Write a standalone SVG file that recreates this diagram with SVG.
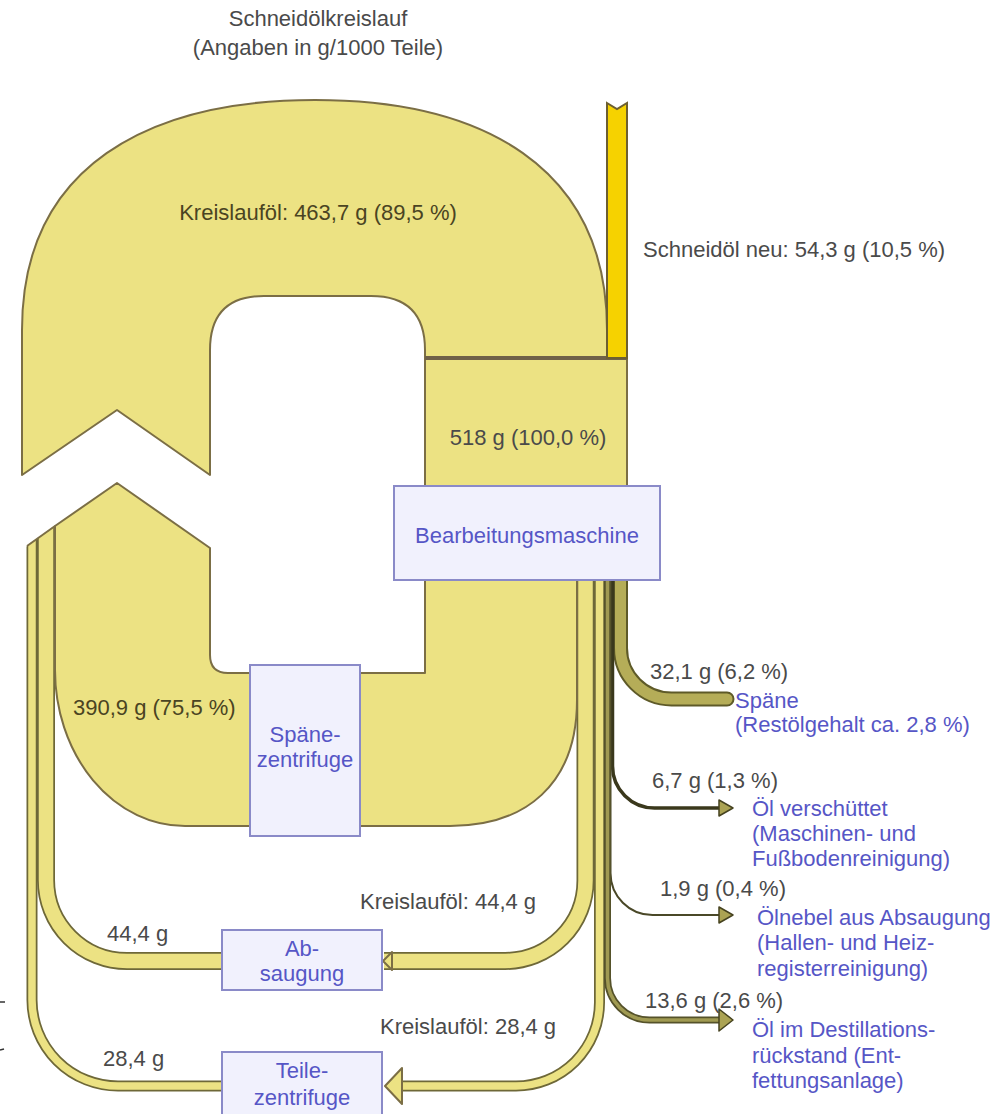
<svg xmlns="http://www.w3.org/2000/svg" width="1006" height="1114" viewBox="0 0 1006 1114">
<style>
.flow{fill:#ece283;stroke:#7b6e45;stroke-width:2;stroke-linejoin:round}
.box{fill:#f1f1fd;stroke:#8a8ac8;stroke-width:2}
.t{font-family:"Liberation Sans",Arial,sans-serif;font-size:22px;fill:#4a4a4a}
.o{fill:#4a4422}
.b{fill:#5656c6}
.c{text-anchor:middle}
.bo{fill:none;stroke:#6e6838;stroke-linecap:butt}
.bi{fill:none;stroke:#ece283;stroke-linecap:butt}
.arr{fill:#aba353;stroke:#45421f;stroke-width:1.5;stroke-linejoin:round}
</style>
<defs>
<clipPath id="belowSlope"><polygon points="0,562 27,546 117,483 1006,483 1006,1114 0,1114"/></clipPath>
<path id="p44L" d="M46,515 V880 A81,81 0 0 0 127,961 H224"/>
<path id="p44R" d="M384,961 H505 A80.5,80.5 0 0 0 585.5,880.5 V579"/>
<path id="p28L" d="M32,515 V1000 A86,86 0 0 0 118,1086 H224"/>
<path id="p28R" d="M398,1086 H516 A83.5,83.5 0 0 0 599.5,1002.5 V579"/>
<path id="pSp" d="M620.5,579 V648 A51,51 0 0 0 671.5,699 H727"/>
<path id="p67" d="M612.5,579 V766 A42,42 0 0 0 654.5,808 H721"/>
<path id="p19" d="M610.5,579 V873 A42,42 0 0 0 652.5,915 H721"/>
<path id="p136" d="M607.5,579 V978 A42,42 0 0 0 649.5,1020 H721"/>
</defs>

<g id="title">
<text class="t c" x="318" y="26" fill="#555">Schneidölkreislauf</text>
<text class="t c" x="318" y="55">(Angaben in g/1000 Teile)</text>
</g>

<g id="connectors">
<g clip-path="url(#belowSlope)">
<use href="#p44L" class="bo" stroke-width="18"/><use href="#p44L" class="bi" stroke-width="14.5"/>
<use href="#p28L" class="bo" stroke-width="11"/><use href="#p28L" class="bi" stroke-width="7.5"/>
</g>
<line x1="27" y1="546" x2="55" y2="526" stroke="#7b6e45" stroke-width="2"/>
<use href="#p44R" class="bo" stroke-width="18"/><use href="#p44R" class="bi" stroke-width="14.5"/>
<polygon class="flow" points="392,952 383,961 392,970"/>
<use href="#p28R" class="bo" stroke-width="11"/><use href="#p28R" class="bi" stroke-width="7.5"/>
<polygon class="flow" points="402,1068 385,1086 402,1104"/>
<use href="#pSp" fill="none" stroke="#5e5a28" stroke-width="15" stroke-linecap="round"/>
<use href="#pSp" fill="none" stroke="#b5ad58" stroke-width="11" stroke-linecap="round"/>
<use href="#p67" fill="none" stroke="#3a381c" stroke-width="3.5"/>
<polygon class="arr" points="719,800 733,808 719,816"/>
<use href="#p19" fill="none" stroke="#4a4828" stroke-width="2"/>
<polygon class="arr" points="719,907 733,915 719,923"/>
<use href="#p136" fill="none" stroke="#55522a" stroke-width="7"/>
<use href="#p136" fill="none" stroke="#a09a52" stroke-width="3.5"/>
<polygon class="arr" points="719,1009 733,1020 719,1031"/>
</g>

<g id="kreislauf">
<path class="flow" d="M22,475 L117,410 L210,475 L210,350 Q210,296 264,296 L371,296 Q425,296 425,350 L425,358 L607,358 L607,330 C607,165 480,100 315,100 C150,100 22,165 22,330 Z"/>
<text class="t c o" x="318" y="220">Kreislauföl: 463,7 g (89,5 %)</text>
</g>

<g id="ruecklauf">
<path class="flow" d="M117,483 L210,548 L210,655 Q210,673 228,673 L425,673 L425,580 L577,580 L577,700 C577,785 525,826 450,826 L185,826 A130,156 0 0 1 55,670 L55,526 Z"/>
<text class="t o" x="73" y="715">390,9 g (75,5 %)</text>
</g>

<g id="maschine-block">
<rect class="flow" x="425" y="358" width="202" height="222"/>
<line x1="425" y1="358" x2="627" y2="358" stroke="#6f6148" stroke-width="4"/>
<text class="t c" x="528" y="445" fill="#5a5430">518 g (100,0 %)</text>
</g>

<g id="schneidoel-neu">
<path d="M607,103 L617,109 L627,103 L627,358 L607,358 Z" fill="#f6d200" stroke="#6d5f30" stroke-width="2"/>
<text class="t" x="643" y="257">Schneidöl neu: 54,3 g (10,5 %)</text>
</g>

<g id="bearbeitungsmaschine">
<rect class="box" x="394" y="486" width="266" height="94"/>
<text class="t c b" x="527" y="543">Bearbeitungsmaschine</text>
</g>

<g id="spaenezentrifuge">
<rect class="box" x="250" y="665" width="110" height="171"/>
<text class="t c b" x="305" y="742">Späne-</text>
<text class="t c b" x="305" y="767">zentrifuge</text>
</g>

<g id="absaugung">
<rect class="box" x="222" y="930" width="160" height="60"/>
<text class="t c b" x="302" y="956">Ab-</text>
<text class="t c b" x="302" y="981">saugung</text>
</g>

<g id="teilezentrifuge">
<rect class="box" x="222" y="1052" width="160" height="70"/>
<text class="t c b" x="302" y="1078">Teile-</text>
<text class="t c b" x="302" y="1105">zentrifuge</text>
</g>

<g id="labels">
<text class="t" x="360" y="909">Kreislauföl: 44,4 g</text>
<text class="t" x="107" y="941">44,4 g</text>
<text class="t" x="380" y="1034">Kreislauföl: 28,4 g</text>
<text class="t" x="103" y="1066">28,4 g</text>
</g>

<g id="out-spaene">
<text class="t" x="650" y="679">32,1 g (6,2 %)</text>
<text class="t b" x="735" y="708">Späne</text>
<text class="t b" x="735" y="732">(Restölgehalt ca. 2,8 %)</text>
</g>
<g id="out-verschuettet">
<text class="t" x="652" y="788">6,7 g (1,3 %)</text>
<text class="t b" x="752" y="816">Öl verschüttet</text>
<text class="t b" x="752" y="841">(Maschinen- und</text>
<text class="t b" x="752" y="866">Fußbodenreinigung)</text>
</g>
<g id="out-oelnebel">
<text class="t" x="660" y="896">1,9 g (0,4 %)</text>
<text class="t b" x="757" y="925">Ölnebel aus Absaugung</text>
<text class="t b" x="757" y="950">(Hallen- und Heiz-</text>
<text class="t b" x="757" y="976">registerreinigung)</text>
</g>
<g id="out-destillation">
<text class="t" x="645" y="1008">13,6 g (2,6 %)</text>
<text class="t b" x="752" y="1037">Öl im Destillations-</text>
<text class="t b" x="752" y="1063">rückstand (Ent-</text>
<text class="t b" x="752" y="1088">fettungsanlage)</text>
</g>
<g id="edge-marks">
<line x1="0" y1="1002" x2="5" y2="1002" stroke="#333" stroke-width="1.5"/>
<line x1="0" y1="1050" x2="4" y2="1049" stroke="#333" stroke-width="1.5"/>
</g>
</svg>
